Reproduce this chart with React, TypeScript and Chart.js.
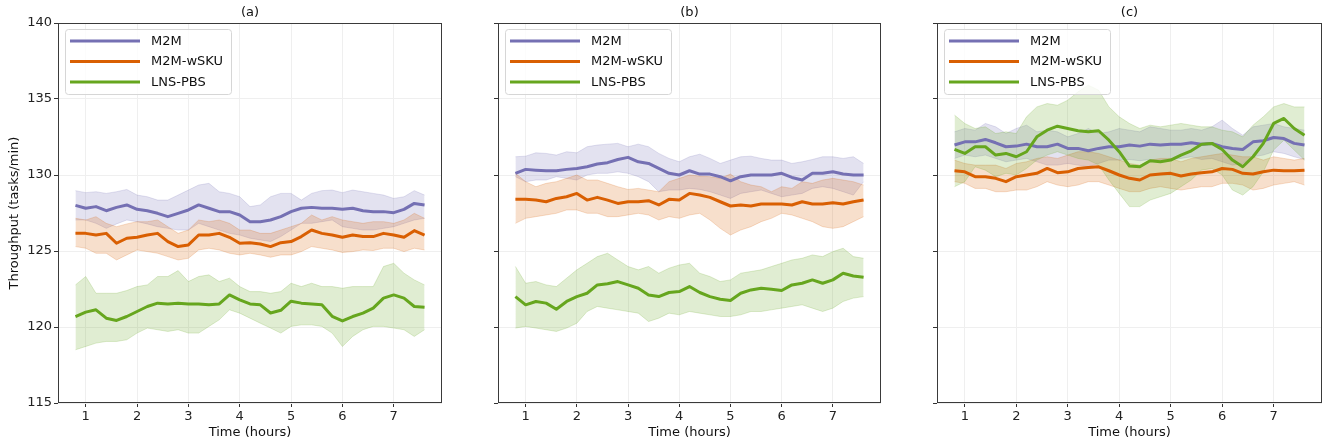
import { useEffect, useRef } from "react";
import { Chart, registerables } from "chart.js";

Chart.register(...registerables);

// ---------- data ----------
const timeHours = [0.8, 1.0, 1.2, 1.4, 1.6, 1.8, 2.0, 2.2, 2.4, 2.6, 2.8, 3.0, 3.2, 3.4, 3.6, 3.8, 4.0, 4.2, 4.4, 4.6, 4.8, 5.0, 5.2, 5.4, 5.6, 5.8, 6.0, 6.2, 6.4, 6.6, 6.8, 7.0, 7.2, 7.4, 7.6];
const xTickValues = [1, 2, 3, 4, 5, 6, 7];
const yTickValues = [115, 120, 125, 130, 135, 140];
const seriesNames = ["M2M", "M2M-wSKU", "LNS-PBS"];
const panelTitles = ["(a)", "(b)", "(c)"];

// Panel (a)
const aM2M = [128.0, 127.81, 127.92, 127.65, 127.87, 128.03, 127.74, 127.65, 127.48, 127.26, 127.48, 127.7, 128.03, 127.81, 127.59, 127.59, 127.37, 126.93, 126.93, 127.04, 127.26, 127.59, 127.81, 127.87, 127.81, 127.81, 127.74, 127.81, 127.65, 127.59, 127.59, 127.52, 127.74, 128.13, 128.03];
const aM2MUpper = [128.97, 128.84, 128.9, 128.79, 128.9, 129.05, 128.68, 128.57, 128.35, 128.35, 128.68, 129.01, 129.34, 129.45, 128.9, 128.79, 128.57, 127.92, 128.03, 128.57, 128.79, 128.79, 128.35, 128.79, 128.97, 129.01, 128.84, 129.01, 128.9, 128.79, 128.68, 128.46, 128.57, 128.97, 128.68];
const aM2MLower = [127.04, 127.04, 126.82, 126.49, 126.78, 127.04, 126.93, 126.78, 126.6, 126.49, 126.38, 126.38, 126.82, 126.6, 126.38, 126.16, 126.05, 125.84, 125.73, 125.62, 125.95, 126.38, 126.82, 126.82, 126.93, 127.04, 126.6, 126.49, 126.38, 126.38, 126.49, 126.6, 126.82, 127.04, 127.15];
const aWSKU = [126.16, 126.16, 126.05, 126.16, 125.51, 125.84, 125.9, 126.05, 126.16, 125.62, 125.29, 125.4, 126.05, 126.05, 126.16, 125.9, 125.51, 125.55, 125.46, 125.29, 125.55, 125.62, 125.95, 126.38, 126.16, 126.05, 125.9, 126.05, 125.95, 125.95, 126.16, 126.05, 125.9, 126.34, 126.05];
const aWSKUUpper = [127.15, 127.04, 127.26, 126.82, 126.6, 126.78, 126.93, 126.93, 127.04, 126.6, 126.16, 126.38, 127.04, 126.93, 127.04, 126.82, 126.38, 126.38, 126.16, 126.16, 126.38, 126.6, 126.82, 127.37, 127.04, 127.26, 127.04, 126.93, 126.82, 126.93, 126.93, 126.82, 127.04, 127.48, 127.15];
const aWSKULower = [125.29, 125.18, 124.85, 124.85, 124.41, 124.74, 125.07, 124.96, 124.85, 124.63, 124.41, 124.52, 125.07, 125.18, 125.07, 124.85, 124.74, 124.85, 124.74, 124.59, 124.74, 124.74, 124.96, 125.29, 125.18, 125.07, 124.9, 124.96, 125.07, 125.03, 125.18, 125.18, 124.96, 125.18, 125.07];
const aLNS = [120.69, 120.98, 121.13, 120.58, 120.43, 120.69, 121.02, 121.35, 121.57, 121.52, 121.57, 121.52, 121.52, 121.46, 121.52, 122.11, 121.79, 121.52, 121.46, 120.92, 121.1, 121.7, 121.57, 121.52, 121.46, 120.7, 120.4, 120.69, 120.91, 121.24, 121.9, 122.11, 121.9, 121.35, 121.3];
const aLNSUpper = [122.77, 123.32, 122.22, 122.22, 122.22, 122.4, 122.66, 122.77, 123.32, 123.32, 123.71, 122.99, 123.32, 123.43, 122.99, 123.21, 122.66, 122.33, 122.33, 122.22, 122.33, 122.88, 122.66, 122.88, 122.66, 122.66, 122.55, 122.66, 122.66, 122.66, 123.98, 124.19, 123.54, 123.1, 122.77];
const aLNSLower = [118.5, 118.72, 118.94, 119.05, 119.05, 119.16, 119.6, 119.93, 119.82, 119.71, 119.82, 119.6, 119.6, 120.04, 120.47, 121.13, 120.91, 120.58, 120.25, 119.93, 119.6, 120.04, 120.14, 120.14, 120.04, 119.6, 118.72, 119.38, 119.82, 120.04, 120.04, 119.93, 119.82, 119.38, 119.82];

// Panel (b)
const bM2M = [130.11, 130.37, 130.32, 130.28, 130.28, 130.37, 130.43, 130.54, 130.72, 130.81, 131.02, 131.16, 130.87, 130.76, 130.43, 130.11, 130.0, 130.28, 130.06, 130.06, 129.89, 129.62, 129.89, 130.0, 130.0, 130.0, 130.11, 129.84, 129.67, 130.11, 130.11, 130.21, 130.06, 130.0, 130.0];
const bM2MUpper = [131.2, 131.24, 131.46, 131.42, 131.31, 131.53, 131.46, 131.86, 131.97, 132.03, 132.08, 131.86, 132.03, 131.86, 131.42, 131.09, 130.87, 131.2, 131.37, 131.09, 130.76, 130.98, 131.2, 131.24, 131.09, 130.98, 130.98, 130.76, 130.87, 131.02, 131.2, 131.2, 131.09, 131.2, 130.76];
const bM2MLower = [129.89, 129.56, 129.67, 129.67, 129.89, 129.78, 129.67, 130.0, 130.11, 130.11, 130.21, 130.11, 129.89, 129.56, 128.9, 129.01, 129.01, 129.12, 129.05, 128.9, 128.68, 128.46, 128.79, 128.9, 129.01, 128.79, 128.57, 128.68, 128.79, 129.12, 129.23, 129.12, 128.9, 128.68, 129.56];
const bWSKU = [128.4, 128.4, 128.35, 128.24, 128.46, 128.57, 128.79, 128.35, 128.53, 128.35, 128.13, 128.24, 128.24, 128.31, 128.03, 128.4, 128.35, 128.79, 128.68, 128.53, 128.24, 127.96, 128.03, 127.96, 128.09, 128.09, 128.09, 128.03, 128.24, 128.09, 128.09, 128.18, 128.09, 128.24, 128.35];
const bWSKUUpper = [130.11, 129.56, 129.23, 129.45, 129.56, 129.78, 130.0, 129.67, 129.67, 129.45, 129.23, 129.05, 129.12, 129.01, 128.9, 129.56, 129.78, 130.0, 129.93, 129.89, 129.78, 130.06, 129.56, 129.34, 129.23, 128.9, 129.23, 129.12, 129.56, 129.45, 129.67, 129.78, 129.67, 129.56, 129.34];
const bWSKULower = [126.82, 127.15, 127.26, 127.37, 127.48, 127.7, 127.7, 127.48, 127.48, 127.26, 127.26, 127.37, 127.48, 127.37, 127.04, 127.26, 127.15, 127.37, 127.48, 127.04, 126.49, 126.05, 126.38, 126.6, 126.93, 127.15, 127.48, 127.37, 127.15, 126.93, 126.6, 126.49, 126.6, 126.93, 127.26];
const bLNS = [122.0, 121.46, 121.68, 121.57, 121.17, 121.68, 122.0, 122.22, 122.77, 122.84, 122.99, 122.77, 122.55, 122.11, 122.0, 122.27, 122.33, 122.66, 122.27, 122.0, 121.83, 121.74, 122.22, 122.44, 122.55, 122.49, 122.4, 122.77, 122.88, 123.1, 122.88, 123.1, 123.54, 123.36, 123.27];
const bLNSUpper = [123.98, 122.88, 122.99, 122.77, 122.66, 123.21, 123.76, 124.19, 124.63, 124.85, 124.41, 123.98, 123.76, 123.98, 123.54, 123.87, 124.08, 124.19, 123.54, 123.32, 122.99, 123.1, 123.54, 123.65, 123.76, 123.98, 124.19, 124.41, 124.52, 124.74, 124.63, 124.96, 125.18, 124.63, 124.52];
const bLNSLower = [119.93, 120.04, 119.93, 119.82, 119.71, 119.93, 120.25, 121.02, 121.35, 121.24, 121.13, 121.02, 120.91, 120.36, 120.58, 120.91, 120.8, 121.02, 120.91, 120.8, 120.69, 120.69, 120.8, 121.02, 121.02, 121.13, 121.24, 121.35, 121.46, 121.24, 121.02, 121.24, 121.68, 121.9, 122.0];

// Panel (c)
const cM2M = [131.97, 132.18, 132.18, 132.34, 132.12, 131.86, 131.9, 132.03, 131.86, 131.86, 132.03, 131.75, 131.75, 131.59, 131.75, 131.86, 131.86, 131.97, 131.9, 132.03, 131.97, 132.03, 132.03, 132.12, 132.03, 132.08, 131.86, 131.75, 131.68, 132.18, 132.25, 132.47, 132.4, 132.08, 131.97];
const cM2MUpper = [132.84, 133.06, 132.95, 133.39, 133.17, 132.73, 133.06, 133.28, 132.84, 132.95, 132.84, 132.51, 132.73, 133.06, 132.73, 132.84, 133.06, 132.95, 132.84, 133.17, 133.06, 132.95, 132.95, 133.06, 132.95, 133.17, 133.61, 133.06, 132.62, 133.17, 133.28, 133.39, 133.17, 133.06, 132.95];
const cM2MLower = [131.09, 131.31, 131.2, 131.31, 131.09, 130.87, 130.98, 131.09, 130.87, 130.65, 130.65, 130.76, 130.65, 130.54, 130.76, 130.98, 130.98, 131.02, 130.94, 131.02, 130.98, 131.02, 131.09, 131.2, 131.02, 131.09, 130.87, 130.65, 130.76, 131.2, 131.31, 131.53, 131.42, 131.2, 131.02];
const cWSKU = [130.28, 130.21, 129.89, 129.89, 129.78, 129.56, 129.89, 130.0, 130.11, 130.43, 130.15, 130.21, 130.43, 130.5, 130.54, 130.28, 130.0, 129.78, 129.67, 130.0, 130.06, 130.11, 129.93, 130.06, 130.15, 130.21, 130.43, 130.37, 130.11, 130.06, 130.21, 130.32, 130.28, 130.28, 130.32];
const cWSKUUpper = [130.98, 130.76, 130.65, 130.65, 130.65, 130.43, 130.76, 130.87, 131.09, 131.2, 131.09, 131.31, 131.53, 131.53, 131.42, 131.2, 130.98, 130.76, 130.65, 130.98, 131.09, 131.09, 130.87, 131.09, 131.2, 131.31, 131.42, 131.31, 131.2, 131.2, 130.98, 131.2, 131.09, 130.98, 131.09];
const cWSKULower = [129.56, 129.45, 129.12, 129.12, 128.9, 128.9, 129.01, 129.01, 129.23, 129.56, 129.34, 129.23, 129.34, 129.56, 129.56, 129.34, 129.12, 128.9, 128.9, 129.12, 129.23, 129.12, 129.01, 129.12, 129.23, 129.23, 129.45, 129.45, 129.34, 129.01, 129.12, 129.34, 129.45, 129.56, 129.34];
const cLNS = [131.68, 131.42, 131.86, 131.86, 131.31, 131.42, 131.2, 131.53, 132.51, 132.95, 133.21, 133.06, 132.91, 132.84, 132.91, 132.29, 131.53, 130.59, 130.54, 130.94, 130.87, 130.98, 131.31, 131.59, 132.03, 132.08, 131.68, 130.98, 130.54, 131.2, 132.08, 133.39, 133.72, 133.06, 132.62];
const cLNSUpper = [133.94, 133.39, 133.06, 133.17, 132.73, 132.84, 132.73, 133.83, 134.48, 134.7, 134.59, 134.92, 135.47, 135.91, 135.58, 134.48, 133.83, 133.39, 133.06, 133.28, 133.17, 133.28, 133.39, 133.28, 133.17, 133.17, 132.95, 132.84, 132.51, 133.28, 133.83, 134.48, 134.7, 134.48, 134.48];
const cLNSLower = [129.23, 129.56, 130.54, 130.32, 129.89, 130.11, 130.0, 130.43, 130.98, 131.31, 131.53, 131.31, 131.09, 130.98, 130.65, 129.67, 128.79, 127.92, 127.92, 128.35, 128.57, 128.79, 129.23, 129.67, 130.32, 130.43, 130.0, 129.01, 128.68, 129.23, 130.21, 131.64, 132.29, 131.64, 130.98];

// ---------- styles ----------
const seriesColors = ["#7570b3", "#d95f02", "#66a61e"];
const bandFills = ["rgba(117,112,179,0.2)", "rgba(217,95,2,0.2)", "rgba(102,166,30,0.2)"];
const FONT = "'DejaVu Sans', 'Liberation Sans', sans-serif";

Chart.defaults.font.family = FONT;
Chart.defaults.font.size = 13;
Chart.defaults.color = "#222";

type PanelCfg = {
  title: string;
  mean: number[][];
  upper: number[][];
  lower: number[][];
  left: number;
  width: number;
  yAxisWidth: number;
  rightPad: number;
  showYLabels: boolean;
};

const panels: PanelCfg[] = [
  { title: panelTitles[0], mean: [aM2M, aWSKU, aLNS], upper: [aM2MUpper, aWSKUUpper, aLNSUpper], lower: [aM2MLower, aWSKULower, aLNSLower], left: 0, width: 450, yAxisWidth: 58, rightPad: 8, showYLabels: true },
  { title: panelTitles[1], mean: [bM2M, bWSKU, bLNS], upper: [bM2MUpper, bWSKUUpper, bLNSUpper], lower: [bM2MLower, bWSKULower, bLNSLower], left: 450, width: 440, yAxisWidth: 48, rightPad: 9, showYLabels: false },
  { title: panelTitles[2], mean: [cM2M, cWSKU, cLNS], upper: [cM2MUpper, cWSKUUpper, cLNSUpper], lower: [cM2MLower, cWSKULower, cLNSLower], left: 890, width: 435, yAxisWidth: 47, rightPad: 3, showYLabels: false },
];

const toPoints = (ys: number[]) => ys.map((y, i) => ({ x: timeHours[i], y }));

const decorPlugin = {
  id: "panelDecor",
  afterDatasetsDraw(chart: any, _args: any, opts: any) {
    const { ctx, chartArea: a } = chart;
    ctx.save();
    // frame
    ctx.strokeStyle = "#3a3a3a";
    ctx.lineWidth = 1;
    ctx.strokeRect(a.left + 0.5, a.top + 0.5, a.right - a.left - 1, a.bottom - a.top - 1);
    // legend
    const lx = a.left + 7.5;
    const ly = a.top + 6.5;
    const lw = 166;
    const lh = 65;
    const r = 3;
    ctx.beginPath();
    ctx.moveTo(lx + r, ly);
    ctx.lineTo(lx + lw - r, ly);
    ctx.quadraticCurveTo(lx + lw, ly, lx + lw, ly + r);
    ctx.lineTo(lx + lw, ly + lh - r);
    ctx.quadraticCurveTo(lx + lw, ly + lh, lx + lw - r, ly + lh);
    ctx.lineTo(lx + r, ly + lh);
    ctx.quadraticCurveTo(lx, ly + lh, lx, ly + lh - r);
    ctx.lineTo(lx, ly + r);
    ctx.quadraticCurveTo(lx, ly, lx + r, ly);
    ctx.closePath();
    ctx.fillStyle = "rgba(255,255,255,0.8)";
    ctx.fill();
    ctx.strokeStyle = "#d6d6d6";
    ctx.stroke();
    const rows = [18, 38.5, 59];
    ctx.font = `13px ${FONT}`;
    ctx.textBaseline = "middle";
    ctx.textAlign = "left";
    seriesNames.forEach((name, i) => {
      const y = a.top + rows[i];
      ctx.strokeStyle = seriesColors[i];
      ctx.lineWidth = 3;
      ctx.beginPath();
      ctx.moveTo(a.left + 12, y);
      ctx.lineTo(a.left + 82, y);
      ctx.stroke();
      ctx.fillStyle = "#111";
      ctx.fillText(name, a.left + 93, y + 0.5);
    });
    // title
    ctx.textAlign = "center";
    ctx.fillStyle = "#111";
    ctx.fillText(opts.title, (a.left + a.right) / 2, 13);
    ctx.restore();
  },
};

function Panel({ cfg }: { cfg: PanelCfg }) {
  const ref = useRef<HTMLCanvasElement>(null);
  useEffect(() => {
    const bands: any[] = [];
    const lines: any[] = [];
    seriesNames.forEach((name, i) => {
      bands.push({
        label: name + " upper",
        data: toPoints(cfg.upper[i]),
        borderColor: bandFills[i],
        borderWidth: 1,
        backgroundColor: bandFills[i],
        fill: "+1",
        pointRadius: 0,
        tension: 0,
      });
      bands.push({
        label: name + " lower",
        data: toPoints(cfg.lower[i]),
        borderColor: bandFills[i],
        borderWidth: 1,
        fill: false,
        pointRadius: 0,
        tension: 0,
      });
      lines.push({
        label: name,
        data: toPoints(cfg.mean[i]),
        borderColor: seriesColors[i],
        borderWidth: 3,
        fill: false,
        pointRadius: 0,
        tension: 0,
        borderJoinStyle: "round",
      });
    });
    // bands underneath all lines; later series drawn on top
    const datasets = [...bands, ...lines];
    datasets.forEach((d, k) => (d.order = datasets.length - k));

    const chart = new Chart(ref.current!, {
      type: "line",
      data: { datasets },
      plugins: [decorPlugin],
      options: {
        animation: false,
        responsive: false,
        devicePixelRatio: 1,
        layout: { padding: { left: 0, right: cfg.rightPad, top: 23, bottom: 0 } },
        plugins: {
          legend: { display: false },
          tooltip: { enabled: false },
          panelDecor: { title: cfg.title },
        } as any,
        scales: {
          x: {
            type: "linear",
            min: 0.46,
            max: 7.94,
            afterBuildTicks: (s: any) => {
              s.ticks = xTickValues.map((v) => ({ value: v }));
            },
            afterFit: (s: any) => {
              s.height = 42;
            },
            ticks: { color: "#222", padding: 2, maxRotation: 0, autoSkip: false, font: { size: 13 } },
            grid: { color: "#efefef", tickColor: "#333", tickLength: 4, lineWidth: 1 },
            border: { display: false },
            title: { display: true, text: "Time (hours)", color: "#111", font: { size: 13 }, padding: { top: 0, bottom: 5 } },
          },
          y: {
            type: "linear",
            min: 115,
            max: 140,
            afterBuildTicks: (s: any) => {
              s.ticks = yTickValues.map((v) => ({ value: v }));
            },
            afterFit: (s: any) => {
              s.width = cfg.yAxisWidth;
            },
            ticks: {
              color: "#222",
              padding: 2,
              font: { size: 13 },
              callback: (v: any) => (cfg.showYLabels ? String(v) : ""),
            },
            grid: { color: "#efefef", tickColor: "#333", tickLength: 4, lineWidth: 1 },
            border: { display: false },
            title: {
              display: cfg.showYLabels,
              text: "Throughput (tasks/min)",
              color: "#111",
              font: { size: 13 },
              padding: { top: 7, bottom: 0 },
            },
          },
        },
      } as any,
    });
    return () => chart.destroy();
  }, [cfg]);
  return (
    <canvas
      ref={ref}
      width={cfg.width}
      height={445}
      style={{ position: "absolute", left: cfg.left, top: 0, width: cfg.width, height: 445 }}
    />
  );
}

export default function App() {
  return (
    <div style={{ position: "fixed", left: 0, top: 0, width: 1325, height: 445, background: "#fff" }}>
      {panels.map((p) => (
        <Panel key={p.title} cfg={p} />
      ))}
    </div>
  );
}
